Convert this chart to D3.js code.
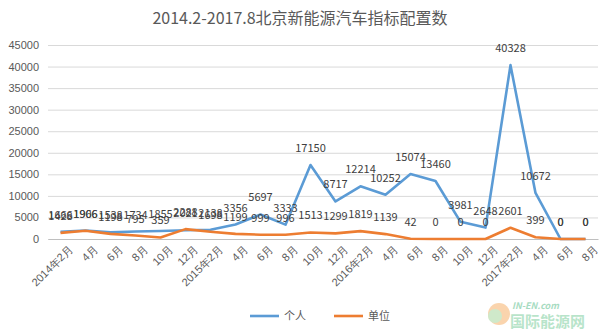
<!DOCTYPE html>
<html>
<head>
<meta charset="utf-8">
<script src="https://cdn.jsdelivr.net/npm/d3@7"></script>
<style>
  body { margin: 0; background: #fff; }
  svg { display: block; font-family: "Noto Sans CJK SC", "Liberation Sans", sans-serif; }
</style>
</head>
<body>
<svg id="chart" width="600" height="331"></svg>
<script>
const months = ["2014年2月","4月","6月","8月","10月","12月",
                "2015年2月","4月","6月","8月","10月","12月",
                "2016年2月","4月","6月","8月","10月","12月",
                "2017年2月","4月","6月","8月"];
const personal = [1666, 1966, 1538, 1734, 1855, 2021, 2138, 3356, 5697, 3333, 17150, 8717,
                  12214, 10252, 15074, 13460, 3981, 2648, 40328, 10672, 0, 0];
const unit = [1428, 1906, 1198, 795, 359, 2288, 1698, 1199, 999, 996, 1513, 1299,
              1819, 1139, 42, 0, 0, 0, 2601, 399, 0, 0];
const yTicks = [0, 5000, 10000, 15000, 20000, 25000, 30000, 35000, 40000, 45000];
const seriesNames = ["个人", "单位"];
const colors = ["#5b9bd5", "#ed7d31"];

const svg = d3.select("#chart");
const plotL = 48, plotR = 598, plotT = 45, plotB = 239;

// month labels repeat across years, so the band scale is keyed by index
const x = d3.scaleBand().domain(d3.range(months.length)).range([plotL, plotR]);
const y = d3.scaleLinear().domain([0, 45000]).range([plotB, plotT]);

// title
svg.append("text")
  .attr("x", 300).attr("y", 24)
  .attr("text-anchor", "middle")
  .attr("font-size", 16)
  .attr("fill", "#595959")
  .text("2014.2-2017.8北京新能源汽车指标配置数");

// gridlines + y labels
const yAxis = d3.axisLeft(y).tickValues(yTicks).tickFormat(d3.format("d"))
  .tickSize(-(plotR - plotL)).tickPadding(9);
const gy = svg.append("g").attr("transform", `translate(${plotL},0)`).call(yAxis);
gy.select(".domain").remove();
gy.selectAll(".tick line").attr("stroke", "#d9d9d9");
gy.selectAll(".tick text").attr("fill", "#595959").attr("font-size", 11)
  .attr("font-family", "Liberation Sans, sans-serif");

// x axis
const xAxis = d3.axisBottom(x).tickSize(0).tickPadding(6).tickFormat(i => months[i]);
const gx = svg.append("g").attr("transform", `translate(0,${plotB})`).call(xAxis);
gx.select(".domain").attr("stroke", "#bfbfbf");
gx.selectAll(".tick text")
  .attr("fill", "#595959").attr("font-size", 11)
  .attr("text-anchor", "end")
  .attr("transform", "translate(4,2) rotate(-45)")
  .attr("dy", "0.6em");

const cx = i => x(i) + x.bandwidth() / 2;
const line = d3.line().x((d, i) => cx(i)).y(d => y(d));

[personal, unit].forEach((vals, k) => {
  svg.append("path")
    .datum(vals)
    .attr("fill", "none")
    .attr("stroke", colors[k])
    .attr("stroke-width", 2.6)
    .attr("stroke-linejoin", "round")
    .attr("d", line);
});

// data labels above each point
[personal, unit].forEach((vals, k) => {
  svg.append("g").selectAll("text")
    .data(vals)
    .join("text")
    .attr("x", (d, i) => cx(i))
    .attr("y", d => y(d) - 13)
    .attr("text-anchor", "middle")
    .attr("font-size", 11)
    .attr("fill", "#404040")
    .text(d => d);
});

// legend
const legend = svg.append("g");
seriesNames.forEach((name, k) => {
  const lx = 250 + k * 84;
  legend.append("line")
    .attr("x1", lx).attr("x2", lx + 29)
    .attr("y1", 316).attr("y2", 316)
    .attr("stroke", colors[k]).attr("stroke-width", 2.6);
  legend.append("text")
    .attr("x", lx + 34).attr("y", 320)
    .attr("font-size", 11).attr("fill", "#595959")
    .text(name);
});

// site mark
const mark = svg.append("g").attr("opacity", 0.55);
mark.append("circle").attr("cx", 499).attr("cy", 314).attr("r", 11).attr("fill", "#f6b26b");
mark.append("circle").attr("cx", 495).attr("cy", 316).attr("r", 7).attr("fill", "#a8d8a0");
mark.append("text").attr("x", 512).attr("y", 309).attr("font-size", 9)
  .attr("font-weight", "bold").attr("font-style", "italic").attr("fill", "#5fbf8f")
  .text("IN-EN.com");
mark.append("text").attr("x", 510).attr("y", 327).attr("font-size", 15)
  .attr("font-weight", "bold").attr("fill", "#7fcfa0")
  .text("国际能源网");
</script>
</body>
</html>
